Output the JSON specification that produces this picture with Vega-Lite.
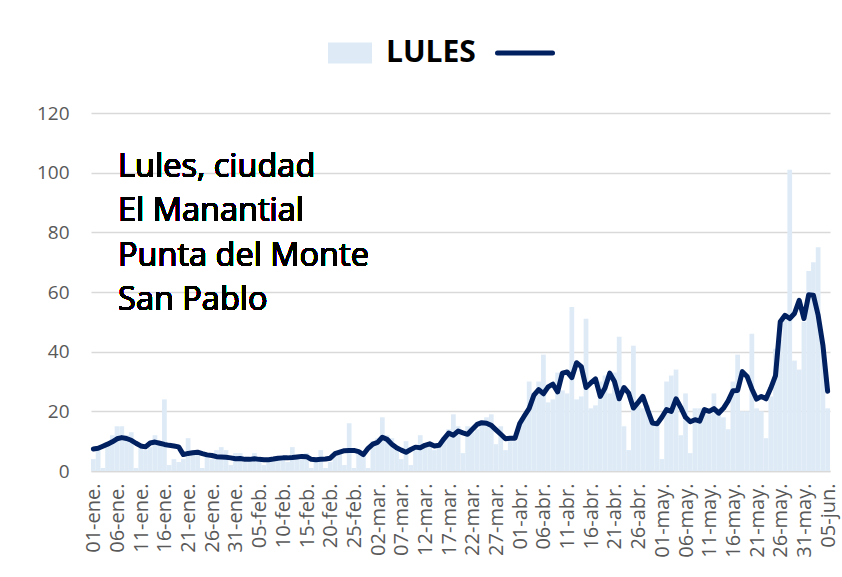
{
  "$schema": "https://vega.github.io/schema/vega-lite/v6.json",
  "width": 739,
  "height": 358,
  "autosize": {"type": "none"},
  "padding": {"left": 91, "top": 113, "right": 12, "bottom": 106},
  "background": "#ffffff",
  "config": {"view": {"stroke": null}, "font": "Open Sans"},
  "data": {"values": [
    {"f":"01-ene.","c":4,"m":7.4},{"f":"02-ene.","c":8,"m":7.6},{"f":"03-ene.","c":1,"m":8.3},{"f":"04-ene.","c":9,"m":9.0},{"f":"05-ene.","c":12,"m":9.8},
    {"f":"06-ene.","c":15,"m":10.8},{"f":"07-ene.","c":15,"m":11.2},{"f":"08-ene.","c":12,"m":10.9},{"f":"09-ene.","c":13,"m":10.3},{"f":"10-ene.","c":1,"m":9.3},
    {"f":"11-ene.","c":8,"m":8.4},{"f":"12-ene.","c":7,"m":8.1},{"f":"13-ene.","c":8,"m":9.4},{"f":"14-ene.","c":12,"m":9.7},{"f":"15-ene.","c":9,"m":9.3},
    {"f":"16-ene.","c":24,"m":8.9},{"f":"17-ene.","c":2,"m":8.6},{"f":"18-ene.","c":4,"m":8.4},{"f":"19-ene.","c":3,"m":8.1},{"f":"20-ene.","c":4,"m":5.5},
    {"f":"21-ene.","c":11,"m":5.9},{"f":"22-ene.","c":7,"m":6.1},{"f":"23-ene.","c":6,"m":6.3},{"f":"24-ene.","c":1,"m":5.8},{"f":"25-ene.","c":5,"m":5.4},
    {"f":"26-ene.","c":4,"m":5.2},{"f":"27-ene.","c":7,"m":4.8},{"f":"28-ene.","c":8,"m":4.7},{"f":"29-ene.","c":7,"m":4.6},{"f":"30-ene.","c":2,"m":4.4},
    {"f":"31-ene.","c":6,"m":4.1},{"f":"01-feb.","c":6,"m":4.2},{"f":"02-feb.","c":3,"m":3.9},{"f":"03-feb.","c":4,"m":3.9},{"f":"04-feb.","c":6,"m":4.1},
    {"f":"05-feb.","c":4,"m":3.9},{"f":"06-feb.","c":2,"m":3.8},{"f":"07-feb.","c":3,"m":3.8},{"f":"08-feb.","c":4,"m":4.0},{"f":"09-feb.","c":5,"m":4.3},
    {"f":"10-feb.","c":4,"m":4.4},{"f":"11-feb.","c":3,"m":4.4},{"f":"12-feb.","c":8,"m":4.5},{"f":"13-feb.","c":5,"m":4.7},{"f":"14-feb.","c":4,"m":4.9},
    {"f":"15-feb.","c":6,"m":4.8},{"f":"16-feb.","c":1,"m":3.9},{"f":"17-feb.","c":4,"m":3.8},{"f":"18-feb.","c":7,"m":3.9},{"f":"19-feb.","c":1,"m":4.0},
    {"f":"20-feb.","c":3,"m":4.3},{"f":"21-feb.","c":5,"m":5.8},{"f":"22-feb.","c":6,"m":6.3},{"f":"23-feb.","c":2,"m":6.8},{"f":"24-feb.","c":16,"m":6.9},
    {"f":"25-feb.","c":1,"m":6.9},{"f":"26-feb.","c":7,"m":6.5},{"f":"27-feb.","c":6,"m":5.5},{"f":"28-feb.","c":1,"m":7.6},{"f":"01-mar.","c":10,"m":9.0},
    {"f":"02-mar.","c":11,"m":9.6},{"f":"03-mar.","c":18,"m":11.3},{"f":"04-mar.","c":12,"m":10.6},{"f":"05-mar.","c":11,"m":9.0},{"f":"06-mar.","c":7,"m":7.8},
    {"f":"07-mar.","c":4,"m":7.0},{"f":"08-mar.","c":10,"m":6.3},{"f":"09-mar.","c":2,"m":7.2},{"f":"10-mar.","c":7,"m":8.0},{"f":"11-mar.","c":12,"m":7.8},
    {"f":"12-mar.","c":8,"m":8.6},{"f":"13-mar.","c":9,"m":9.1},{"f":"14-mar.","c":7,"m":8.4},{"f":"15-mar.","c":8,"m":8.6},{"f":"16-mar.","c":11,"m":10.8},
    {"f":"17-mar.","c":14,"m":12.7},{"f":"18-mar.","c":19,"m":12.0},{"f":"19-mar.","c":15,"m":13.4},{"f":"20-mar.","c":6,"m":12.8},{"f":"21-mar.","c":15,"m":12.3},
    {"f":"22-mar.","c":13,"m":14.0},{"f":"23-mar.","c":14,"m":15.6},{"f":"24-mar.","c":16,"m":16.2},{"f":"25-mar.","c":18,"m":16.0},{"f":"26-mar.","c":19,"m":15.3},
    {"f":"27-mar.","c":9,"m":13.8},{"f":"28-mar.","c":15,"m":12.3},{"f":"29-mar.","c":7,"m":10.8},{"f":"30-mar.","c":10,"m":11.0},{"f":"31-mar.","c":10,"m":11.0},
    {"f":"01-abr.","c":16,"m":15.9},{"f":"02-abr.","c":19,"m":18.5},{"f":"03-abr.","c":30,"m":21.0},{"f":"04-abr.","c":26,"m":25.4},{"f":"05-abr.","c":30,"m":27.3},
    {"f":"06-abr.","c":39,"m":25.9},{"f":"07-abr.","c":23,"m":28.2},{"f":"08-abr.","c":24,"m":29.1},{"f":"09-abr.","c":33,"m":26.5},{"f":"10-abr.","c":27,"m":32.8},
    {"f":"11-abr.","c":26,"m":33.2},{"f":"12-abr.","c":55,"m":31.3},{"f":"13-abr.","c":24,"m":36.3},{"f":"14-abr.","c":25,"m":35.0},{"f":"15-abr.","c":51,"m":28.0},
    {"f":"16-abr.","c":21,"m":29.5},{"f":"17-abr.","c":22,"m":30.9},{"f":"18-abr.","c":30,"m":25.0},{"f":"19-abr.","c":32,"m":27.8},{"f":"20-abr.","c":26,"m":32.8},
    {"f":"21-abr.","c":33,"m":30.0},{"f":"22-abr.","c":45,"m":24.2},{"f":"23-abr.","c":15,"m":28.0},{"f":"24-abr.","c":7,"m":26.1},{"f":"25-abr.","c":42,"m":21.1},
    {"f":"26-abr.","c":22,"m":23.0},{"f":"27-abr.","c":21,"m":25.0},{"f":"28-abr.","c":22,"m":20.5},{"f":"29-abr.","c":17,"m":16.1},{"f":"30-abr.","c":16,"m":15.8},
    {"f":"01-may.","c":4,"m":18.0},{"f":"02-may.","c":30,"m":20.6},{"f":"03-may.","c":32,"m":20.0},{"f":"04-may.","c":34,"m":24.2},{"f":"05-may.","c":12,"m":21.3},
    {"f":"06-may.","c":26,"m":18.0},{"f":"07-may.","c":6,"m":16.5},{"f":"08-may.","c":21,"m":17.2},{"f":"09-may.","c":21,"m":16.7},{"f":"10-may.","c":20,"m":20.6},
    {"f":"11-may.","c":19,"m":20.0},{"f":"12-may.","c":26,"m":20.9},{"f":"13-may.","c":21,"m":19.4},{"f":"14-may.","c":18,"m":21.0},{"f":"15-may.","c":14,"m":23.5},
    {"f":"16-may.","c":30,"m":26.9},{"f":"17-may.","c":39,"m":27.0},{"f":"18-may.","c":20,"m":33.3},{"f":"19-may.","c":20,"m":31.7},{"f":"20-may.","c":46,"m":27.5},
    {"f":"21-may.","c":21,"m":24.1},{"f":"22-may.","c":20,"m":25.0},{"f":"23-may.","c":11,"m":24.2},{"f":"24-may.","c":25,"m":27.8},{"f":"25-may.","c":41,"m":32.0},
    {"f":"26-may.","c":44,"m":50.0},{"f":"27-may.","c":52,"m":52.2},{"f":"28-may.","c":101,"m":51.1},{"f":"29-may.","c":37,"m":52.8},{"f":"30-may.","c":34,"m":57.2},
    {"f":"31-may.","c":50,"m":51.1},{"f":"01-jun.","c":67,"m":59.1},{"f":"02-jun.","c":70,"m":58.9},{"f":"03-jun.","c":75,"m":52.2},{"f":"04-jun.","c":40,"m":42.2},
    {"f":"05-jun.","c":21,"m":26.7}
  ]},
  "encoding": {
    "x": {
      "field": "f", "type": "ordinal", "sort": null,
      "scale": {"paddingInner": 0, "paddingOuter": 0},
      "axis": {
        "title": null, "labelAngle": -90, "ticks": false, "grid": false,
        "domain": true, "domainColor": "#D9D9D9", "domainWidth": 1.5,
        "labelFont": "Open Sans", "labelFontSize": 20, "labelColor": "#595959",
        "labelPadding": 12, "labelOffset": 1,
        "values": ["01-ene.","06-ene.","11-ene.","16-ene.","21-ene.","26-ene.","31-ene.","05-feb.","10-feb.","15-feb.","20-feb.","25-feb.","02-mar.","07-mar.","12-mar.","17-mar.","22-mar.","27-mar.","01-abr.","06-abr.","11-abr.","16-abr.","21-abr.","26-abr.","01-may.","06-may.","11-may.","16-may.","21-may.","26-may.","31-may.","05-jun."]
      }
    }
  },
  "layer": [
    {
      "mark": {"type": "bar"},
      "encoding": {
        "y": {
          "field": "c", "type": "quantitative",
          "scale": {"domain": [0, 120], "nice": false},
          "axis": {
            "title": null, "values": [0, 20, 40, 60, 80, 100, 120],
            "domain": false, "ticks": false,
            "labelFont": "Open Sans", "labelFontSize": 19, "labelColor": "#595959",
            "labelPadding": 22, "gridColor": "#D9D9D9", "gridWidth": 1.5
          }
        },
        "color": {
          "datum": "LULES",
          "scale": {"domain": ["LULES", "PROM"], "range": ["#DEEBF7", "#002060"]},
          "legend": {
            "orient": "none", "legendX": 244, "legendY": -75,
            "direction": "horizontal", "title": null,
            "labelExpr": "datum.value === 'LULES' ? 'LULES' : ''",
            "labelFont": "Open Sans", "labelFontSize": 30, "labelFontWeight": "bold",
            "labelColor": "#000000", "symbolSize": 484, "symbolStrokeWidth": 0,
            "labelOffset": 21, "columnPadding": 11,
            "encode": {
              "symbols": {
                "update": {
                  "shape": {"signal": "datum.value === 'LULES' ? 'M-2,-0.95H2V0.95H-2Z' : 'M-2.5,0H2.5'"},
                  "fill": {"signal": "datum.value === 'LULES' ? '#DEEBF7' : 'transparent'"},
                  "stroke": {"signal": "datum.value === 'LULES' ? 'transparent' : '#002060'"},
                  "strokeWidth": {"signal": "datum.value === 'LULES' ? 0 : 5"},
                  "strokeCap": {"value": "round"},
                  "opacity": {"value": 1}
                }
              }
            }
          }
        }
      }
    },
    {
      "mark": {"type": "line", "strokeWidth": 5, "strokeJoin": "round", "strokeCap": "round"},
      "encoding": {
        "y": {"field": "m", "type": "quantitative"},
        "color": {"datum": "PROM"}
      }
    },
    {
      "mark": {
        "type": "text", "align": "left", "baseline": "alphabetic",
        "font": "Open Sans", "fontSize": 32.5, "lineHeight": 44.5, "color": "#000000", "dx": 1
      },
      "encoding": {
        "x": {"datum": "06-ene."},
        "y": {"datum": 98.6},
        "text": {"value": ["Lules, ciudad", "El Manantial", "Punta del Monte", "San Pablo"]}
      }
    }
  ]
}
